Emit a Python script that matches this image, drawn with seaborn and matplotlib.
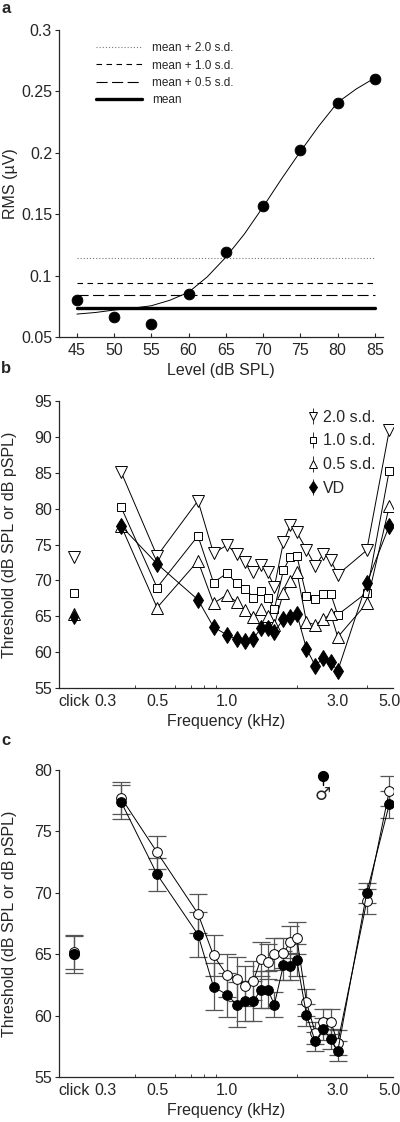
import numpy as np
import pandas as pd
import matplotlib
matplotlib.use("Agg")
import matplotlib.pyplot as plt
import seaborn as sns
from matplotlib.ticker import FixedLocator, FixedFormatter, FormatStrFormatter, NullFormatter

# ── DATA ───
# panel a: RMS vs level
level = [45, 50, 55, 60, 65, 70, 75, 80, 85]
rms = [0.080, 0.066, 0.061, 0.085, 0.119, 0.157, 0.202, 0.241, 0.260]
fit_level = [45, 47.5, 50, 52.5, 55, 57.5, 60, 62.5, 65, 67.5, 70, 72.5, 75, 77.5, 80, 82.5, 85]
fit_rms = [0.0687, 0.0700, 0.0720, 0.0735, 0.0755, 0.0800, 0.0865, 0.0990, 0.1150,
           0.1340, 0.1560, 0.1790, 0.2010, 0.2220, 0.2410, 0.2520, 0.2610]
crit_labels = ["mean + 2.0 s.d.", "mean + 1.0 s.d.", "mean + 0.5 s.d.", "mean"]
crit_values = [0.114, 0.094, 0.084, 0.074]

# panel b/c: frequencies (kHz)
freq = [0.35, 0.5, 0.75, 0.875, 1.0, 1.1, 1.2, 1.3, 1.4, 1.5, 1.6,
        1.75, 1.875, 2.0, 2.2, 2.4, 2.6, 2.8, 3.0, 4.0, 5.0]
click_x = 0.22   # where the click stimulus is drawn on the freq axis

sd20 = [85.1, 73.4, 81.1, 73.8, 74.9, 73.7, 72.5, 71.2, 72.1, 71.1, 69.1,
        75.3, 77.7, 76.7, 74.3, 72.0, 73.7, 72.8, 70.8, 74.2, 90.9]
sd10 = [80.2, 69.0, 76.2, 69.7, 71.0, 69.6, 68.8, 67.6, 68.5, 67.6, 66.0,
        71.4, 73.3, 73.4, 67.8, 67.4, 68.1, 68.1, 65.2, 68.3, 85.3]
sd05 = [77.6, 66.2, 72.7, 66.8, 68.0, 67.0, 65.9, 64.9, 66.0, 65.0, 63.8,
        68.3, 69.9, 71.2, 64.2, 63.8, 64.6, 65.3, 62.1, 66.8, 80.3]
vd = [77.6, 72.3, 67.3, 63.5, 62.4, 61.8, 61.6, 61.9, 63.3, 63.3, 62.8,
      64.6, 64.9, 65.3, 60.5, 58.1, 59.2, 58.6, 57.4, 69.6, 77.6]
click_b = {"2.0 s.d.": 73.3, "1.0 s.d.": 68.3, "0.5 s.d.": 65.3, "VD": 64.9}

female = [77.4, 71.5, 66.6, 62.35, 61.7, 60.9, 61.2, 61.2, 62.1, 62.1, 60.9,
          64.1, 64.0, 64.5, 60.05, 57.9, 58.9, 58.1, 57.1, 70.0, 77.2]
female_err = [1.4, 1.35, 1.8, 1.9, 1.8, 1.8, 1.6, 1.6, 1.5, 1.5, 1.0,
              1.2, 1.1, 1.3, 0.9, 0.8, 0.9, 0.8, 0.8, 0.8, 1.1]
male = [77.75, 73.3, 68.3, 64.9, 63.3, 63.0, 62.4, 62.85, 64.6, 64.4, 65.0,
        65.1, 66.0, 66.3, 61.1, 58.6, 59.5, 59.5, 57.8, 69.3, 78.3]
male_err = [1.3, 1.35, 1.6, 1.7, 1.75, 1.8, 1.6, 1.6, 1.4, 1.4, 1.3,
            1.2, 1.3, 1.3, 1.1, 0.9, 1.0, 1.0, 1.0, 1.0, 1.2]
click_female, click_female_err = 65.0, 1.5
click_male, click_male_err = 65.2, 1.4

# ── STYLE ───
sns.set_style("ticks")
plt.rcParams['font.family'] = ['Liberation Sans', 'DejaVu Sans']
plt.rcParams['font.size'] = 11.5
plt.rcParams['axes.linewidth'] = 0.9

fig = plt.figure(figsize=(4, 11.22), dpi=100)
ax_a = fig.add_axes([0.1475, 0.6996, 0.81, 0.2736])
ax_b = fig.add_axes([0.1475, 0.3868, 0.835, 0.2558])
ax_c = fig.add_axes([0.1475, 0.0401, 0.835, 0.2736])

for ax in (ax_a, ax_b, ax_c):
    sns.despine(ax=ax)
    ax.tick_params(axis='y', direction='out', length=3, width=0.8, labelsize=11.5, pad=2)
    ax.tick_params(axis='x', direction='in', length=3, width=0.8, labelsize=11.5, pad=4)
    ax.tick_params(axis='x', which='minor', direction='in', length=2, width=0.6)

# ── PANEL A ───
styles = [dict(ls=(0, (1, 1.8)), lw=0.8, color='#777777'),
          dict(ls=(0, (5, 4)), lw=0.8, color='black'),
          dict(ls=(0, (10, 4)), lw=0.8, color='black'),
          dict(ls='-', lw=2.4, color='black')]
for lab, val, st in zip(crit_labels, crit_values, styles):
    ax_a.plot([level[0], level[-1]], [val, val], label=lab, **st)

sns.lineplot(x=fit_level, y=fit_rms, ax=ax_a, color='black', lw=0.7)
sns.scatterplot(x=level, y=rms, ax=ax_a, color='black', s=60, edgecolor='black', zorder=5)
ax_a.set_xlim(42.6, 86.1)
ax_a.set_ylim(0.05, 0.3)
ax_a.set_xticks(level)
ax_a.set_yticks([0.05, 0.1, 0.15, 0.2, 0.25, 0.3])
ax_a.yaxis.set_major_formatter(FormatStrFormatter('%g'))
ax_a.set_xlabel("Level (dB SPL)")
ax_a.set_ylabel("RMS (µV)")
ax_a.legend(loc='upper left', bbox_to_anchor=(0.08, 0.995), frameon=False, fontsize=8.5,
            handlelength=3.9, handletextpad=0.9, labelspacing=0.45)

# ── PANEL B ───
series_b = [("2.0 s.d.", sd20, 'v', 8, 'white'),
            ("1.0 s.d.", sd10, 's', 6, 'white'),
            ("0.5 s.d.", sd05, '^', 8, 'white'),
            ("VD", vd, 'd', 8.5, 'black')]
handles = []
for lab, vals, mk, ms, fc in series_b:
    sns.lineplot(x=freq, y=vals, ax=ax_b, color='black', lw=0.7, marker=mk,
                 markersize=ms, markerfacecolor=fc, markeredgecolor='black',
                 markeredgewidth=0.7)
    ax_b.plot([click_x], [click_b[lab]], marker=mk, ms=ms * 0.8 if mk == 'd' else ms,
              mfc=fc, mec='black', mew=0.7, ls='none', color='black')
    h = ax_b.errorbar([], [], yerr=[], marker=mk, ms=ms * 0.75, mfc=fc, mec='black',
                      mew=0.7, color='black', ecolor='#333333', elinewidth=0.7,
                      capsize=2, ls='none', label=lab)
    handles.append(h)

ax_b.legend(handles=handles, loc='upper right', bbox_to_anchor=(0.99, 1.02), frameon=False,
            fontsize=11.5, handlelength=0.7, handletextpad=0.25, labelspacing=0.55)
ax_b.set_ylim(55, 95)
ax_b.set_yticks(range(55, 96, 5))

# ── PANEL C ───
ax_c.errorbar(freq, male, yerr=male_err, fmt='none', ecolor='#555555', elinewidth=0.9,
              capsize=6.5, capthick=0.9, zorder=2)
ax_c.errorbar(freq, female, yerr=female_err, fmt='none', ecolor='#555555', elinewidth=0.9,
              capsize=6.5, capthick=0.9, zorder=2)
ax_c.errorbar([click_x], [click_male], yerr=[click_male_err], fmt='none', ecolor='#555555',
              elinewidth=0.9, capsize=6.5, capthick=0.9, zorder=2)
ax_c.errorbar([click_x], [click_female], yerr=[click_female_err], fmt='none', ecolor='#555555',
              elinewidth=0.9, capsize=6.5, capthick=0.9, zorder=2)
sns.lineplot(x=freq, y=male, ax=ax_c, color='black', lw=0.7, marker='o', markersize=7,
             markerfacecolor='white', markeredgecolor='black', markeredgewidth=0.7, zorder=4)
sns.lineplot(x=freq, y=female, ax=ax_c, color='black', lw=0.7, marker='o', markersize=7,
             markerfacecolor='black', markeredgecolor='black', markeredgewidth=0.7, zorder=5)
ax_c.plot([click_x], [click_male], marker='o', ms=7, mfc='white', mec='black', mew=0.7, ls='none', zorder=4)
ax_c.plot([click_x], [click_female], marker='o', ms=7, mfc='black', mec='black', ls='none', zorder=5)
ax_c.set_ylim(55, 80)
ax_c.set_yticks(range(55, 81, 5))

# sex symbols
ax_c.plot([0.79], [0.982], marker='o', ms=7, color='black', transform=ax_c.transAxes, clip_on=False)
ax_c.plot([0.79, 0.79], [0.975, 0.95], color='black', lw=1, transform=ax_c.transAxes)
ax_c.text(0.79, 0.918, "♂", transform=ax_c.transAxes, ha='center', va='center',
          fontsize=13, family=['DejaVu Sans'])

# shared log frequency axis
for ax in (ax_b, ax_c):
    ax.set_xscale('log')
    ax.set_xlim(0.189, 5.19)
    ax.xaxis.set_major_locator(FixedLocator([click_x, 0.3, 0.5, 1.0, 3.0, 5.0]))
    ax.xaxis.set_major_formatter(FixedFormatter(["click", "0.3", "0.5", "1.0", "3.0", "5.0"]))
    ax.xaxis.set_minor_locator(FixedLocator([0.4, 0.6, 0.7, 0.8, 0.9, 2.0, 4.0]))
    ax.xaxis.set_minor_formatter(NullFormatter())
    ax.set_xlabel("Frequency (kHz)")
    ax.set_ylabel("Threshold (dB SPL or dB pSPL)")
ax_b.tick_params(axis='x', which='major', length=0)
ax_c.tick_params(axis='x', which='major', length=0)

for ax in (ax_a, ax_b, ax_c):
    ax.yaxis.set_label_coords(-0.125, 0.5)

fig.text(0.003, 0.999, "a", fontsize=12, fontweight='bold', va='top', ha='left')
fig.text(0.003, 0.678, "b", fontsize=12, fontweight='bold', va='top', ha='left')
fig.text(0.003, 0.347, "c", fontsize=12, fontweight='bold', va='top', ha='left')

fig.savefig("out.png", dpi=100)
